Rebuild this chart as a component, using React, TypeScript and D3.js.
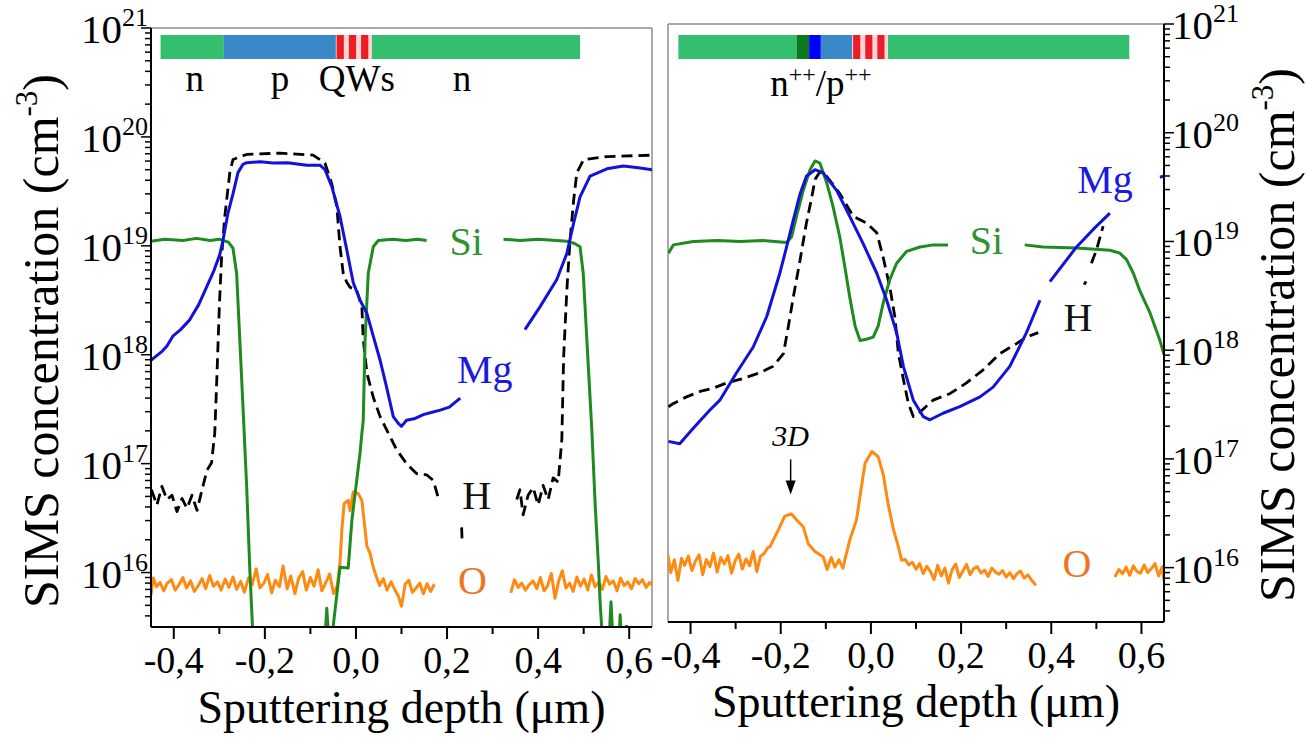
import * as d3 from 'd3';

type Pt = [number, number] | null;

// ---------- axes ----------
const depthDomain = [-0.45, 0.65];
const concDomain = [3.162e15, 1e21];
const depthMajor = [-0.4, -0.2, 0, 0.2, 0.4, 0.6];
const depthMajorLabels = ['-0,4', '-0,2', '0,0', '0,2', '0,4', '0,6'];
const depthMinor = [-0.3, -0.1, 0.1, 0.3, 0.5];
const decadeExp = [16, 17, 18, 19, 20, 21];

// ---------- left panel: layer stack ----------
const leftLayerFrom = [-0.429, -0.29, -0.044, 0.035];
const leftLayerTo = [-0.29, -0.044, 0.035, 0.492];
const leftLayerKind = ['n', 'p', 'qw', 'n'];
const leftLayerNames = ['n', 'p', 'QWs', 'n'];
const leftLayerNameDepth = [-0.354, -0.167, 0.002, 0.233];

// ---------- right panel: layer stack ----------
const rightLayerFrom = [-0.427, -0.165, -0.137, -0.111, -0.041, 0.038];
const rightLayerTo = [-0.165, -0.137, -0.111, -0.041, 0.038, 0.573];
const rightLayerKind = ['n', 'n++', 'p++', 'p', 'qw', 'n'];

// ---------- left panel profiles (depth um, conc cm-3) ----------
const leftSi: Pt[] = [
  [-0.45, 1.1e19], [-0.42, 1.15e19], [-0.38, 1.12e19], [-0.35, 1.17e19], [-0.32, 1.12e19], [-0.3, 1.15e19],
  [-0.292, 1.12e19], [-0.28, 1.08e19], [-0.27, 9.5e18], [-0.262, 5.6e18], [-0.255, 1.36e18], [-0.248, 3.3e17],
  [-0.24, 6.2e16], [-0.233, 1.05e16], [-0.226, 2.5e15], null,
  [-0.068, 2.5e15], [-0.064, 4.7e15], [-0.06, 2.5e15], [-0.053, 2.5e15], [-0.035, 1.12e16], [-0.017, 1.1e16],
  [-0.009, 3.0e16], [0.009, 1.26e17], [0.013, 1.9e17], [0.016, 2.5e17], [0.02, 1.36e18], [0.027, 5.6e18],
  [0.038, 9.8e18], [0.049, 1.12e19], [0.08, 1.15e19], [0.11, 1.12e19], [0.135, 1.15e19], [0.155, 1.12e19], null,
  [0.324, 1.15e19], [0.36, 1.12e19], [0.4, 1.15e19], [0.44, 1.12e19], [0.463, 1.1e19], [0.48, 1.05e19],
  [0.492, 9.8e18], [0.499, 5.6e18], [0.507, 1.36e18], [0.518, 2.0e17], [0.525, 4.4e16], [0.533, 1.05e16],
  [0.536, 5.4e15], [0.541, 2.5e15], [0.556, 2.5e15], [0.56, 5.4e15], [0.564, 2.5e15], [0.578, 2.5e15],
  [0.58, 4.1e15], [0.583, 2.5e15], [0.595, 3.3e15],
];

const leftMg: Pt[] = [
  [-0.45, 8.9e17], [-0.44, 9.6e17], [-0.425, 1.08e18], [-0.415, 1.2e18], [-0.402, 1.48e18], [-0.385, 1.7e18],
  [-0.365, 2.09e18], [-0.345, 2.9e18], [-0.328, 4.17e18], [-0.312, 5.9e18], [-0.299, 8.3e18], [-0.292, 1.12e19],
  [-0.281, 2.0e19], [-0.27, 3.0e19], [-0.259, 4.7e19], [-0.248, 5.6e19], [-0.24, 5.8e19], [-0.21, 5.9e19],
  [-0.182, 5.75e19], [-0.15, 5.8e19], [-0.108, 5.5e19], [-0.079, 5.5e19], [-0.068, 5.0e19], [-0.053, 3.5e19],
  [-0.035, 1.86e19], [-0.02, 9.1e18], [-0.006, 4.6e18], [0.009, 3.16e18], [0.024, 2.4e18], [0.038, 1.48e18],
  [0.053, 8.9e17], [0.067, 5.1e17], [0.082, 2.7e17], [0.093, 2.34e17], [0.1, 2.2e17], [0.111, 2.5e17],
  [0.13, 2.6e17], [0.148, 2.82e17], [0.165, 2.95e17], [0.185, 3.1e17], [0.205, 3.3e17], [0.229, 4.0e17], null,
  [0.371, 1.7e18], [0.404, 2.75e18], [0.441, 4.9e18], [0.463, 8.5e18], [0.478, 1.62e19], [0.492, 2.82e19],
  [0.514, 4.37e19], [0.551, 5.1e19], [0.587, 5.4e19], [0.62, 5.2e19], [0.65, 5.0e19],
];

const leftH: Pt[] = [
  [-0.449, 5.75e16], [-0.437, 4.17e16], [-0.426, 6.17e16], [-0.415, 4.68e16], [-0.404, 5.13e16], [-0.393, 3.63e16],
  [-0.382, 4.79e16], [-0.371, 3.89e16], [-0.36, 5.13e16], [-0.349, 3.72e16], [-0.338, 5.75e16], [-0.327, 8.7e16],
  [-0.317, 1.02e17], [-0.31, 1.91e17], [-0.305, 6.8e17], [-0.3, 2.75e18], [-0.295, 7.9e18], [-0.288, 1.86e19],
  [-0.277, 4.7e19], [-0.27, 6.2e19], [-0.24, 6.9e19], [-0.167, 7.1e19], [-0.094, 6.8e19], [-0.068, 5.75e19],
  [-0.053, 3.7e19], [-0.042, 2.3e19], [-0.035, 9.8e18], [-0.028, 5.6e18], [-0.02, 4.6e18], [-0.013, 4.17e18],
  [0.002, 3.89e18], [0.013, 2.75e18], [0.016, 1.38e18], [0.024, 6.8e17], [0.038, 4.07e17], [0.053, 2.7e17],
  [0.071, 1.91e17], [0.089, 1.35e17], [0.111, 1.0e17], [0.133, 8.1e16], [0.155, 7.9e16], [0.17, 7.0e16],
  [0.181, 4.8e16], null,
  [0.232, 2.6e16], [0.233, 2.0e16], null,
  [0.353, 4.68e16], [0.36, 5.75e16], [0.367, 3.39e16], [0.378, 5.13e16], [0.389, 6.03e16], [0.4, 4.17e16],
  [0.411, 6.31e16], [0.422, 4.68e16], [0.433, 7.4e16], [0.444, 6.76e16], [0.452, 1.66e17], [0.456, 9.5e17],
  [0.463, 3.89e18], [0.47, 1.12e19], [0.478, 2.63e19], [0.485, 4.7e19], [0.5, 6.2e19], [0.551, 6.6e19],
  [0.65, 6.8e19],
];

const leftO: Pt[] = [
  [-0.45, 6.2e15], [-0.445, 8.9e15], [-0.438, 7.4e15], [-0.43, 8.1e15], [-0.422, 6.8e15], [-0.415, 7.9e15],
  [-0.405, 8.6e15], [-0.397, 6.9e15], [-0.388, 7.8e15], [-0.38, 9.0e15], [-0.372, 7.2e15], [-0.363, 8.4e15],
  [-0.355, 6.7e15], [-0.346, 7.6e15], [-0.338, 8.8e15], [-0.33, 7.1e15], [-0.321, 9.4e15], [-0.313, 7.5e15],
  [-0.304, 8.2e15], [-0.296, 6.9e15], [-0.287, 8.7e15], [-0.279, 7.3e15], [-0.27, 9.1e15], [-0.262, 7.0e15],
  [-0.253, 8.3e15], [-0.245, 6.6e15], [-0.236, 8.9e15], [-0.228, 7.7e15], [-0.219, 10.8e15], [-0.211, 7.2e15],
  [-0.202, 8.0e15], [-0.194, 9.6e15], [-0.185, 6.5e15], [-0.177, 8.5e15], [-0.168, 7.4e15], [-0.16, 11.5e15],
  [-0.151, 7.1e15], [-0.143, 9.3e15], [-0.134, 6.4e15], [-0.126, 8.8e15], [-0.117, 10.2e15], [-0.109, 6.9e15],
  [-0.1, 9.0e15], [-0.092, 7.5e15], [-0.083, 10.6e15], [-0.075, 6.8e15], [-0.066, 8.1e15], [-0.058, 9.7e15],
  [-0.049, 6.4e15], [-0.041, 7.6e15], [-0.035, 1.23e16], [-0.031, 2.45e16], [-0.026, 4.3e16], [-0.017, 4.6e16],
  [-0.013, 3.7e16], [-0.006, 5.5e16], [0.005, 5.3e16], [0.013, 4.6e16], [0.024, 1.75e16], [0.031, 1.5e16],
  [0.038, 1.12e16], [0.045, 9.1e15], [0.052, 7.6e15], [0.06, 8.8e15], [0.068, 6.9e15], [0.077, 8.2e15],
  [0.085, 7.0e15], [0.093, 6.1e15], [0.1, 4.9e15], [0.108, 7.8e15], [0.116, 8.5e15], [0.124, 6.6e15],
  [0.132, 7.2e15], [0.14, 8.0e15], [0.148, 6.4e15], [0.156, 7.9e15], [0.164, 6.7e15], [0.172, 7.8e15], null,
  [0.34, 6.5e15], [0.348, 8.6e15], [0.356, 7.3e15], [0.364, 8.0e15], [0.372, 6.9e15], [0.38, 7.7e15],
  [0.389, 8.4e15], [0.397, 7.1e15], [0.405, 9.0e15], [0.413, 6.8e15], [0.421, 7.6e15], [0.429, 9.8e15],
  [0.437, 5.8e15], [0.445, 8.3e15], [0.453, 10.4e15], [0.461, 7.2e15], [0.469, 8.0e15], [0.477, 6.7e15],
  [0.485, 9.1e15], [0.493, 7.5e15], [0.501, 8.7e15], [0.509, 6.9e15], [0.517, 9.5e15], [0.525, 7.4e15],
  [0.533, 8.1e15], [0.541, 7.0e15], [0.549, 9.2e15], [0.557, 7.8e15], [0.565, 8.4e15], [0.573, 6.8e15],
  [0.581, 8.9e15], [0.589, 7.6e15], [0.597, 8.2e15], [0.605, 7.1e15], [0.613, 8.8e15], [0.621, 7.9e15],
  [0.629, 8.6e15], [0.637, 7.3e15], [0.645, 8.1e15], [0.65, 7.7e15],
];

// ---------- right panel profiles ----------
const rightSi: Pt[] = [
  [-0.449, 7.8e18], [-0.438, 9.3e18], [-0.394, 1.0e19], [-0.34, 1.02e19], [-0.29, 1.0e19], [-0.24, 1.02e19],
  [-0.187, 9.8e18], [-0.176, 1.1e19], [-0.165, 1.7e19], [-0.15, 2.95e19], [-0.135, 4.57e19], [-0.124, 5.5e19],
  [-0.113, 5.25e19], [-0.098, 3.47e19], [-0.084, 2.09e19], [-0.069, 1.1e19], [-0.058, 5.9e18], [-0.047, 3.09e18],
  [-0.035, 1.66e18], [-0.024, 1.23e18], [-0.01, 1.26e18], [0.005, 1.32e18], [0.016, 1.66e18], [0.027, 2.69e18],
  [0.042, 4.47e18], [0.057, 6.3e18], [0.079, 8.1e18], [0.109, 8.9e18], [0.138, 9.3e18], [0.171, 9.3e18], null,
  [0.341, 9.3e18], [0.382, 8.9e18], [0.456, 8.7e18], [0.53, 8.3e18], [0.552, 7.8e18], [0.567, 6.8e18],
  [0.582, 5.1e18], [0.596, 3.55e18], [0.619, 2.2e18], [0.641, 1.23e18], [0.65, 9.1e17],
];

const rightMg: Pt[] = [
  [-0.449, 1.45e17], [-0.424, 1.38e17], [-0.394, 1.91e17], [-0.357, 2.82e17], [-0.335, 3.47e17], [-0.298, 6.2e17],
  [-0.261, 1.07e18], [-0.231, 2.04e18], [-0.202, 5.1e18], [-0.187, 8.9e18], [-0.172, 1.58e19], [-0.157, 2.75e19],
  [-0.143, 3.98e19], [-0.124, 4.57e19], [-0.106, 4.27e19], [-0.076, 2.95e19], [-0.047, 1.7e19], [-0.017, 9.5e18],
  [0.013, 5.1e18], [0.035, 2.88e18], [0.057, 1.45e18], [0.072, 7.1e17], [0.094, 3.47e17], [0.116, 2.45e17],
  [0.131, 2.29e17], [0.16, 2.63e17], [0.197, 3.02e17], [0.242, 3.72e17], [0.271, 4.57e17], [0.308, 7.1e17],
  [0.345, 1.45e18], [0.375, 2.88e18], null,
  [0.397, 4.27e18], [0.456, 8.9e18], [0.493, 1.29e19], [0.53, 1.82e19], null,
  [0.641, 3.9e19], [0.65, 4.0e19],
];

const rightH: Pt[] = [
  [-0.449, 3.02e17], [-0.438, 3.24e17], [-0.409, 3.72e17], [-0.379, 4.17e17], [-0.35, 4.47e17], [-0.32, 5.0e17],
  [-0.283, 5.5e17], [-0.246, 6.2e17], [-0.217, 7.1e17], [-0.194, 9.3e17], [-0.183, 1.66e18], [-0.172, 3.09e18],
  [-0.157, 6.8e18], [-0.143, 1.48e19], [-0.131, 2.57e19], [-0.124, 3.72e19], [-0.113, 4.37e19], [-0.098, 3.98e19],
  [-0.069, 2.75e19], [-0.039, 1.7e19], [-0.01, 1.48e19], [0.013, 1.2e19], [0.027, 7.2e18], [0.042, 3.8e18],
  [0.053, 2.04e18], [0.061, 9.3e17], [0.072, 5.4e17], [0.083, 3.24e17], [0.094, 2.45e17], [0.109, 2.7e17],
  [0.138, 3.47e17], [0.175, 3.98e17], [0.212, 5.0e17], [0.249, 6.6e17], [0.286, 9.3e17], [0.323, 1.15e18],
  [0.345, 1.32e18], [0.371, 1.45e18], null,
  [0.473, 4.0e18], [0.477, 4.3e18], null,
  [0.489, 6.3e18], [0.5, 8.3e18], [0.515, 1.38e19],
];

const rightO: Pt[] = [
  [-0.45, 13.0e15], [-0.444, 9.0e15], [-0.436, 11.8e15], [-0.428, 7.6e15], [-0.42, 12.2e15], [-0.413, 10.5e15],
  [-0.405, 12.8e15], [-0.397, 9.4e15], [-0.389, 11.5e15], [-0.381, 13.1e15], [-0.373, 8.6e15], [-0.365, 11.9e15],
  [-0.357, 10.2e15], [-0.349, 13.6e15], [-0.341, 9.1e15], [-0.333, 12.4e15], [-0.325, 10.8e15], [-0.317, 12.9e15],
  [-0.309, 8.9e15], [-0.301, 11.6e15], [-0.293, 13.3e15], [-0.285, 9.7e15], [-0.277, 12.0e15], [-0.269, 10.4e15],
  [-0.261, 14.1e15], [-0.253, 9.2e15], [-0.245, 12.7e15], [-0.237, 13.5e15], [-0.229, 15.2e15],
  [-0.224, 1.55e16], [-0.205, 2.24e16], [-0.191, 2.98e16], [-0.176, 3.11e16], [-0.164, 2.73e16],
  [-0.15, 2.38e16], [-0.139, 1.66e16], [-0.124, 1.41e16], [-0.106, 1.26e16],
  [-0.097, 9.6e15], [-0.088, 12.4e15], [-0.08, 10.1e15], [-0.071, 11.8e15], [-0.062, 9.9e15],
  [-0.058, 1.17e16], [-0.047, 1.79e16], [-0.032, 2.74e16], [-0.021, 5.55e16], [-0.013, 9.1e16], [0.002, 1.17e17],
  [0.016, 1.05e17], [0.027, 7.3e16], [0.038, 3.9e16], [0.05, 2.24e16], [0.061, 1.55e16], [0.068, 1.17e16],
  [0.076, 11.9e15], [0.084, 10.6e15], [0.092, 11.2e15], [0.1, 9.7e15], [0.108, 10.9e15], [0.116, 8.8e15],
  [0.124, 10.3e15], [0.132, 9.2e15], [0.14, 7.8e15], [0.148, 10.5e15], [0.156, 8.4e15], [0.164, 9.9e15],
  [0.172, 7.2e15], [0.18, 9.6e15], [0.188, 10.8e15], [0.196, 8.1e15], [0.204, 9.3e15], [0.212, 10.7e15],
  [0.22, 8.6e15], [0.228, 9.8e15], [0.236, 10.2e15], [0.244, 8.9e15], [0.252, 9.5e15], [0.26, 8.3e15],
  [0.268, 9.9e15], [0.276, 9.1e15], [0.284, 8.7e15], [0.292, 9.4e15], [0.3, 8.2e15], [0.308, 9.0e15],
  [0.316, 7.9e15], [0.324, 8.8e15], [0.332, 9.3e15], [0.34, 8.0e15], [0.348, 8.6e15], [0.356, 7.7e15],
  [0.366, 6.9e15], null,
  [0.541, 8.2e15], [0.55, 9.6e15], [0.558, 8.8e15], [0.566, 10.1e15], [0.574, 8.5e15], [0.582, 10.4e15],
  [0.59, 9.2e15], [0.598, 8.9e15], [0.606, 10.6e15], [0.614, 9.0e15], [0.622, 9.8e15], [0.63, 10.9e15],
  [0.638, 8.4e15], [0.646, 10.2e15], [0.65, 7.6e15],
];

// ---------- curve labels ----------
const elementNames = ['Si', 'Mg', 'H', 'O'];
const leftLabelDepth = [0.242, 0.283, 0.265, 0.256];
const leftLabelConc = [8.3e18, 5.5e17, 3.8e16, 6.3e15];
const rightLabelDepth = [0.256, 0.519, 0.459, 0.457];
const rightLabelConc = [7.6e18, 2.8e19, 1.5e18, 8.2e15];

// 3D marker on the right panel
const marker3dDepth = -0.178;
const marker3dText = 1.32e17;
const marker3dArrow = [9.9e16, 4.7e16];

// ---------- styles ----------
const FONT = "'Liberation Serif', 'Times New Roman', serif";
const lineColor: Record<string, string> = { Si: '#1f8a1f', Mg: '#1212d8', H: '#000000', O: '#ff8a12' };
const textColor: Record<string, string> = { Si: '#2f932f', Mg: '#1a1ae0', H: '#111111', O: '#ec7424' };
const layerFill: Record<string, string> = { n: '#34bf6f', p: '#3a88c8', 'n++': '#0b7a1f', 'p++': '#0000ff' };
const qwStripes = [0.02, 0.36, 0.7];

function Panel(props: any) {
  const { id, side, left, right, top, bottom, series, layerFrom, layerTo, layerKind, labelDepth, labelConc, titleX, titleY, xTitleY, children } = props;
  const x = d3.scaleLinear().domain(depthDomain).range([left, right]);
  const y = d3.scaleLog().domain(concDomain).range([bottom, top]);
  const line = d3
    .line<Pt>()
    .defined((d) => d !== null)
    .x((d) => x(d![0]))
    .y((d) => y(d![1]));

  const axisX = side === 'left' ? left : right;
  const otherX = side === 'left' ? right : left;
  const dir = side === 'left' ? -1 : 1;
  const yTicks = y.ticks();
  const isMajor = (v: number) => Math.abs(Math.log10(v) - Math.round(Math.log10(v))) < 1e-6;
  const barY = 35;
  const barH = 24;

  return (
    <g>
      <defs>
        <clipPath id={`clip-${id}`}>
          <rect x={left} y={top} width={right - left} height={bottom - top} />
        </clipPath>
      </defs>

      {/* layer stack */}
      {layerFrom.map((f: number, i: number) => {
        const x0 = x(f);
        const w = x(layerTo[i]) - x0;
        if (layerKind[i] === 'qw') {
          return (
            <g key={i}>
              <rect x={x0} y={barY} width={w} height={barH} fill="#ffd4d4" />
              {qwStripes.map((s, j) => (
                <rect key={j} x={x0 + s * w} y={barY} width={w * 0.2} height={barH} fill="#ee1c25" />
              ))}
            </g>
          );
        }
        return <rect key={i} x={x0} y={barY} width={w} height={barH} fill={layerFill[layerKind[i]]} />;
      })}

      {/* frame */}
      <line x1={left} x2={right} y1={top} y2={top} stroke="#8c8c8c" strokeWidth={1.5} />
      <line x1={otherX} x2={otherX} y1={top} y2={bottom} stroke="#8c8c8c" strokeWidth={1.5} />

      {/* profiles */}
      <g clipPath={`url(#clip-${id})`} fill="none" strokeLinejoin="round">
        {series.map((s: any) => (
          <path
            key={s.name}
            d={line(s.data) ?? ''}
            stroke={lineColor[s.name]}
            strokeWidth={s.name === 'H' ? 2.8 : 3}
            strokeDasharray={s.name === 'H' ? '11,6' : undefined}
          />
        ))}
      </g>

      {/* curve labels */}
      {elementNames.map((n, i) => (
        <text key={n} x={x(labelDepth[i])} y={y(labelConc[i])} textAnchor="middle" fontSize={40} fill={textColor[n]}>
          {n}
        </text>
      ))}

      {/* depth axis */}
      <line x1={left} x2={right} y1={bottom} y2={bottom} stroke="#000" strokeWidth={2} />
      {depthMajor.map((d, i) => (
        <g key={d}>
          <line x1={x(d)} x2={x(d)} y1={bottom} y2={bottom + 12} stroke="#000" strokeWidth={2} />
          <text x={x(d)} y={bottom + 46} textAnchor="middle" fontSize={38}>
            {depthMajorLabels[i]}
          </text>
        </g>
      ))}
      {depthMinor.map((d) => (
        <line key={d} x1={x(d)} x2={x(d)} y1={bottom} y2={bottom + 7} stroke="#000" strokeWidth={2} />
      ))}
      <text x={(left + right) / 2} y={xTitleY} textAnchor="middle" fontSize={46}>
        Sputtering depth (μm)
      </text>

      {/* concentration axis */}
      <line x1={axisX} x2={axisX} y1={top} y2={bottom} stroke="#000" strokeWidth={2} />
      {yTicks.map((v) => (
        <line
          key={v}
          x1={axisX}
          x2={axisX + dir * (isMajor(v) ? 10 : 6)}
          y1={y(v)}
          y2={y(v)}
          stroke="#000"
          strokeWidth={1.5}
        />
      ))}
      {decadeExp.map((e) => (
        <text
          key={e}
          x={side === 'left' ? axisX - 3 : axisX + 8}
          y={y(10 ** e) + 15}
          textAnchor={side === 'left' ? 'end' : 'start'}
          fontSize={41}
        >
          10
          <tspan dy={-17} fontSize={26}>
            {e}
          </tspan>
        </text>
      ))}
      <text transform={`translate(${titleX},${titleY}) rotate(-90)`} textAnchor="middle" fontSize={50}>
        SIMS concentration (cm
        <tspan dy={-21} fontSize={31}>
          -3
        </tspan>
        <tspan dy={21}>)</tspan>
      </text>

      {children ? children(x, y) : null}
    </g>
  );
}

export default function App() {
  return (
    <svg
      width={1307}
      height={739}
      style={{ position: 'absolute', left: 0, top: 0, background: '#fff' }}
      fontFamily={FONT}
    >
      <Panel
        id="a"
        side="left"
        left={151}
        right={652}
        top={28}
        bottom={627}
        series={[
          { name: 'O', data: leftO },
          { name: 'H', data: leftH },
          { name: 'Si', data: leftSi },
          { name: 'Mg', data: leftMg },
        ]}
        layerFrom={leftLayerFrom}
        layerTo={leftLayerTo}
        layerKind={leftLayerKind}
        labelDepth={leftLabelDepth}
        labelConc={leftLabelConc}
        titleX={58}
        titleY={341}
        xTitleY={723}
      >
        {(x: any) =>
          leftLayerNames.map((n, i) => (
            <text key={i} x={x(leftLayerNameDepth[i])} y={91} textAnchor="middle" fontSize={37}>
              {n}
            </text>
          ))
        }
      </Panel>
      <Panel
        id="b"
        side="right"
        left={668}
        right={1164}
        top={24}
        bottom={622}
        series={[
          { name: 'O', data: rightO },
          { name: 'H', data: rightH },
          { name: 'Si', data: rightSi },
          { name: 'Mg', data: rightMg },
        ]}
        layerFrom={rightLayerFrom}
        layerTo={rightLayerTo}
        layerKind={rightLayerKind}
        labelDepth={rightLabelDepth}
        labelConc={rightLabelConc}
        titleX={1294}
        titleY={335}
        xTitleY={717}
      >
        {(x: any, y: any) => (
          <g>
            <text x={x(-0.111)} y={96} textAnchor="middle" fontSize={37}>
              n<tspan dy={-14} fontSize={24}>++</tspan>
              <tspan dy={14}>/p</tspan>
              <tspan dy={-14} fontSize={24}>++</tspan>
            </text>
            <text x={x(marker3dDepth)} y={y(marker3dText)} textAnchor="middle" fontSize={30} fontStyle="italic">
              3D
            </text>
            <line
              x1={x(marker3dDepth)}
              x2={x(marker3dDepth)}
              y1={y(marker3dArrow[0])}
              y2={y(marker3dArrow[1]) - 10}
              stroke="#000"
              strokeWidth={1.5}
            />
            <path
              d={`M${x(marker3dDepth)},${y(marker3dArrow[1])} l-5,-14 l10,0 z`}
              fill="#000"
            />
          </g>
        )}
      </Panel>
    </svg>
  );
}
